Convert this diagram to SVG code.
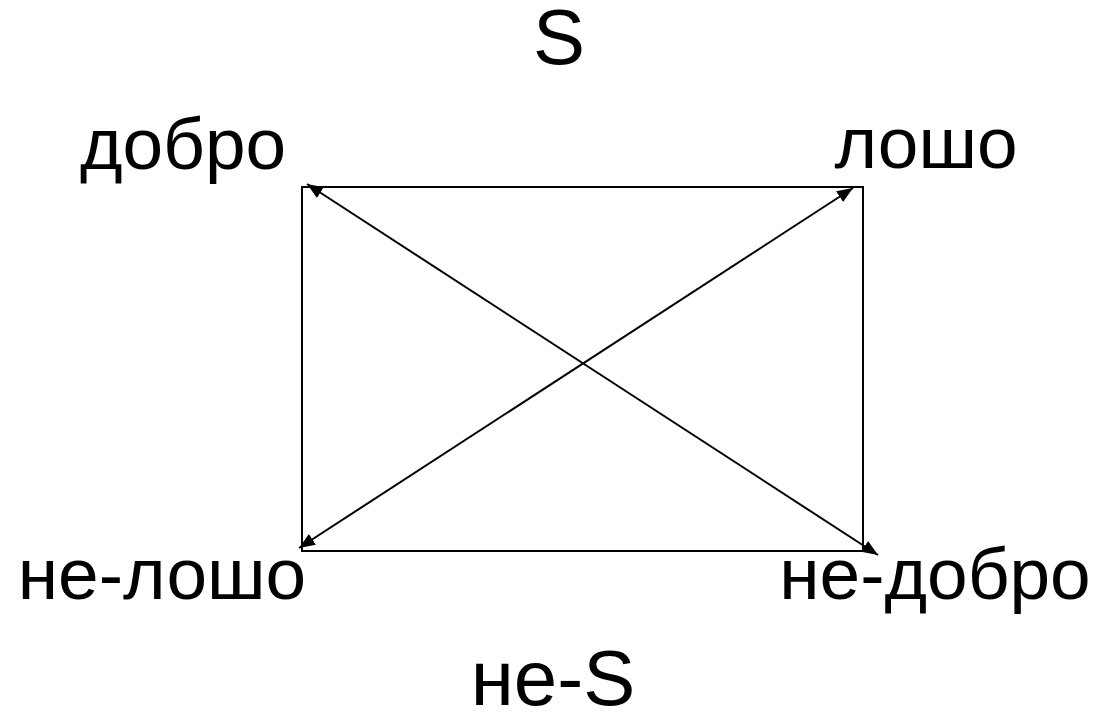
<svg xmlns="http://www.w3.org/2000/svg" width="1109" height="714" viewBox="0 0 1109 714">
<style>
text{font-family:"Liberation Sans",Arial,sans-serif;font-size:73px;fill:#000}
text.big{font-size:78px}
.c{stroke:#000;stroke-width:2;fill:none}
</style>
<defs>
<marker id="ah" viewBox="0 0 10 10" refX="10" refY="5" markerWidth="16" markerHeight="16" markerUnits="userSpaceOnUse" orient="auto-start-reverse">
<path d="M0,1L10,5L0,9z" fill="#000"/>
</marker>
</defs>
<rect width="1109" height="714" fill="#fff"/>
<g id="connectors">
<rect class="c" x="302" y="187" width="561" height="364"/>
<line class="c" x1="307" y1="184" x2="878" y2="555" marker-start="url(#ah)" marker-end="url(#ah)"/>
<line class="c" x1="853" y1="188" x2="299" y2="548" marker-start="url(#ah)" marker-end="url(#ah)"/>
</g>
<g id="n-s"><text class="big" x="559" y="64" text-anchor="middle">S</text></g>
<g id="n-dobro"><text x="183" y="169" text-anchor="middle">добро</text></g>
<g id="n-losho"><text x="926" y="168" text-anchor="middle">лошо</text></g>
<g id="n-nelosho"><text x="162" y="599" text-anchor="middle">не-лошо</text></g>
<g id="n-nedobro"><text x="935" y="599" text-anchor="middle">не-добро</text></g>
<g id="n-nes"><text class="big" x="553" y="705" text-anchor="middle">не-S</text></g>
</svg>
